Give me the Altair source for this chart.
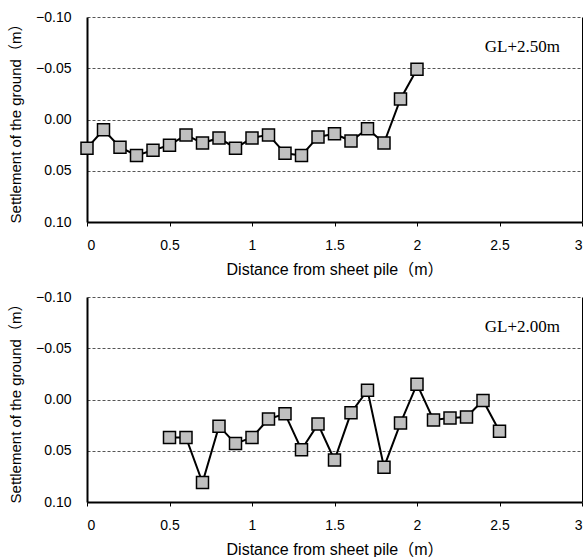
import altair as alt
import pandas as pd

# Data
x_top = [0.0, 0.1, 0.2, 0.3, 0.4, 0.5, 0.6, 0.7, 0.8, 0.9, 1.0,
         1.1, 1.2, 1.3, 1.4, 1.5, 1.6, 1.7, 1.8, 1.9, 2.0]
y_top = [0.028, 0.010, 0.027, 0.035, 0.030, 0.025, 0.015, 0.023, 0.018, 0.028, 0.018,
         0.015, 0.033, 0.035, 0.017, 0.014, 0.021, 0.009, 0.023, -0.020, -0.049]

x_bot = [0.5, 0.6, 0.7, 0.8, 0.9, 1.0, 1.1, 1.2, 1.3, 1.4, 1.5,
         1.6, 1.7, 1.8, 1.9, 2.0, 2.1, 2.2, 2.3, 2.4, 2.5]
y_bot = [0.037, 0.037, 0.081, 0.026, 0.043, 0.037, 0.019, 0.014, 0.049, 0.024, 0.059,
         0.013, -0.009, 0.066, 0.023, -0.015, 0.020, 0.018, 0.017, 0.001, 0.031]

x_ticks = [0, 0.5, 1, 1.5, 2, 2.5, 3]
y_ticks = [-0.1, -0.05, 0, 0.05, 0.1]
labels = ["GL+2.50m", "GL+2.00m"]

SANS = "Liberation Sans, 'Noto Sans CJK JP'"


def panel(xs, ys, label):
    df = pd.DataFrame({"x": xs, "y": ys})
    base = alt.Chart(df)
    xscale = alt.Scale(domain=[0, 3], nice=False, zero=False)
    yscale = alt.Scale(domain=[-0.1, 0.1], reverse=True, nice=False, zero=False)
    xaxis = alt.Axis(
        values=x_ticks, format="~g", title="Distance from sheet pile（m）",
        grid=False, domainColor="black", domainWidth=2,
        tickColor="black", tickSize=4, tickWidth=1,
        labelPadding=12, labelFontSize=14, labelFont=SANS, labelColor="black",
        titleFontSize=16, titleFont=SANS, titleFontWeight="normal",
        titleColor="black", titlePadding=9,
    )
    yaxis = alt.Axis(
        values=y_ticks, format=".2f", title="Settlement of the ground（m）",
        grid=True, gridDash=[3, 2], gridColor="#555555", gridWidth=1,
        domainColor="black", domainWidth=2, ticks=False,
        labelPadding=16, labelFontSize=14, labelFont=SANS, labelColor="black",
        titleFontSize=15, titleFont=SANS, titleFontWeight="normal",
        titleColor="black", titlePadding=12,
    )
    line = base.mark_line(color="black", strokeWidth=2).encode(
        x=alt.X("x:Q", scale=xscale, axis=xaxis),
        y=alt.Y("y:Q", scale=yscale, axis=yaxis),
    )
    pts = base.mark_square(size=144, fill="#c0c0c0", stroke="black",
                           strokeWidth=1.5, opacity=1).encode(
        x=alt.X("x:Q", scale=xscale, axis=xaxis),
        y=alt.Y("y:Q", scale=yscale, axis=alt.Axis(
            orient="right", labels=False, ticks=False, grid=False, title=None,
            domainColor="black", domainWidth=1)),
    )
    txt = alt.Chart(alt.Data(values=[{"t": label}])).mark_text(
        font="Liberation Serif", fontSize=17, align="right", baseline="middle",
        color="black").encode(
        text="t:N", x=alt.value(473), y=alt.value(30))
    return alt.layer(line, pts, txt).resolve_axis(y="independent").properties(
        width=495, height=205)


chart = alt.vconcat(
    panel(x_top, y_top, labels[0]),
    panel(x_bot, y_bot, labels[1]),
    spacing=13,
).properties(
    padding={"left": 8, "top": 10, "right": 5, "bottom": 0},
    background="white",
).configure_view(stroke=None)

chart.save("out.html", embed_options={"renderer": "svg", "actions": False})
